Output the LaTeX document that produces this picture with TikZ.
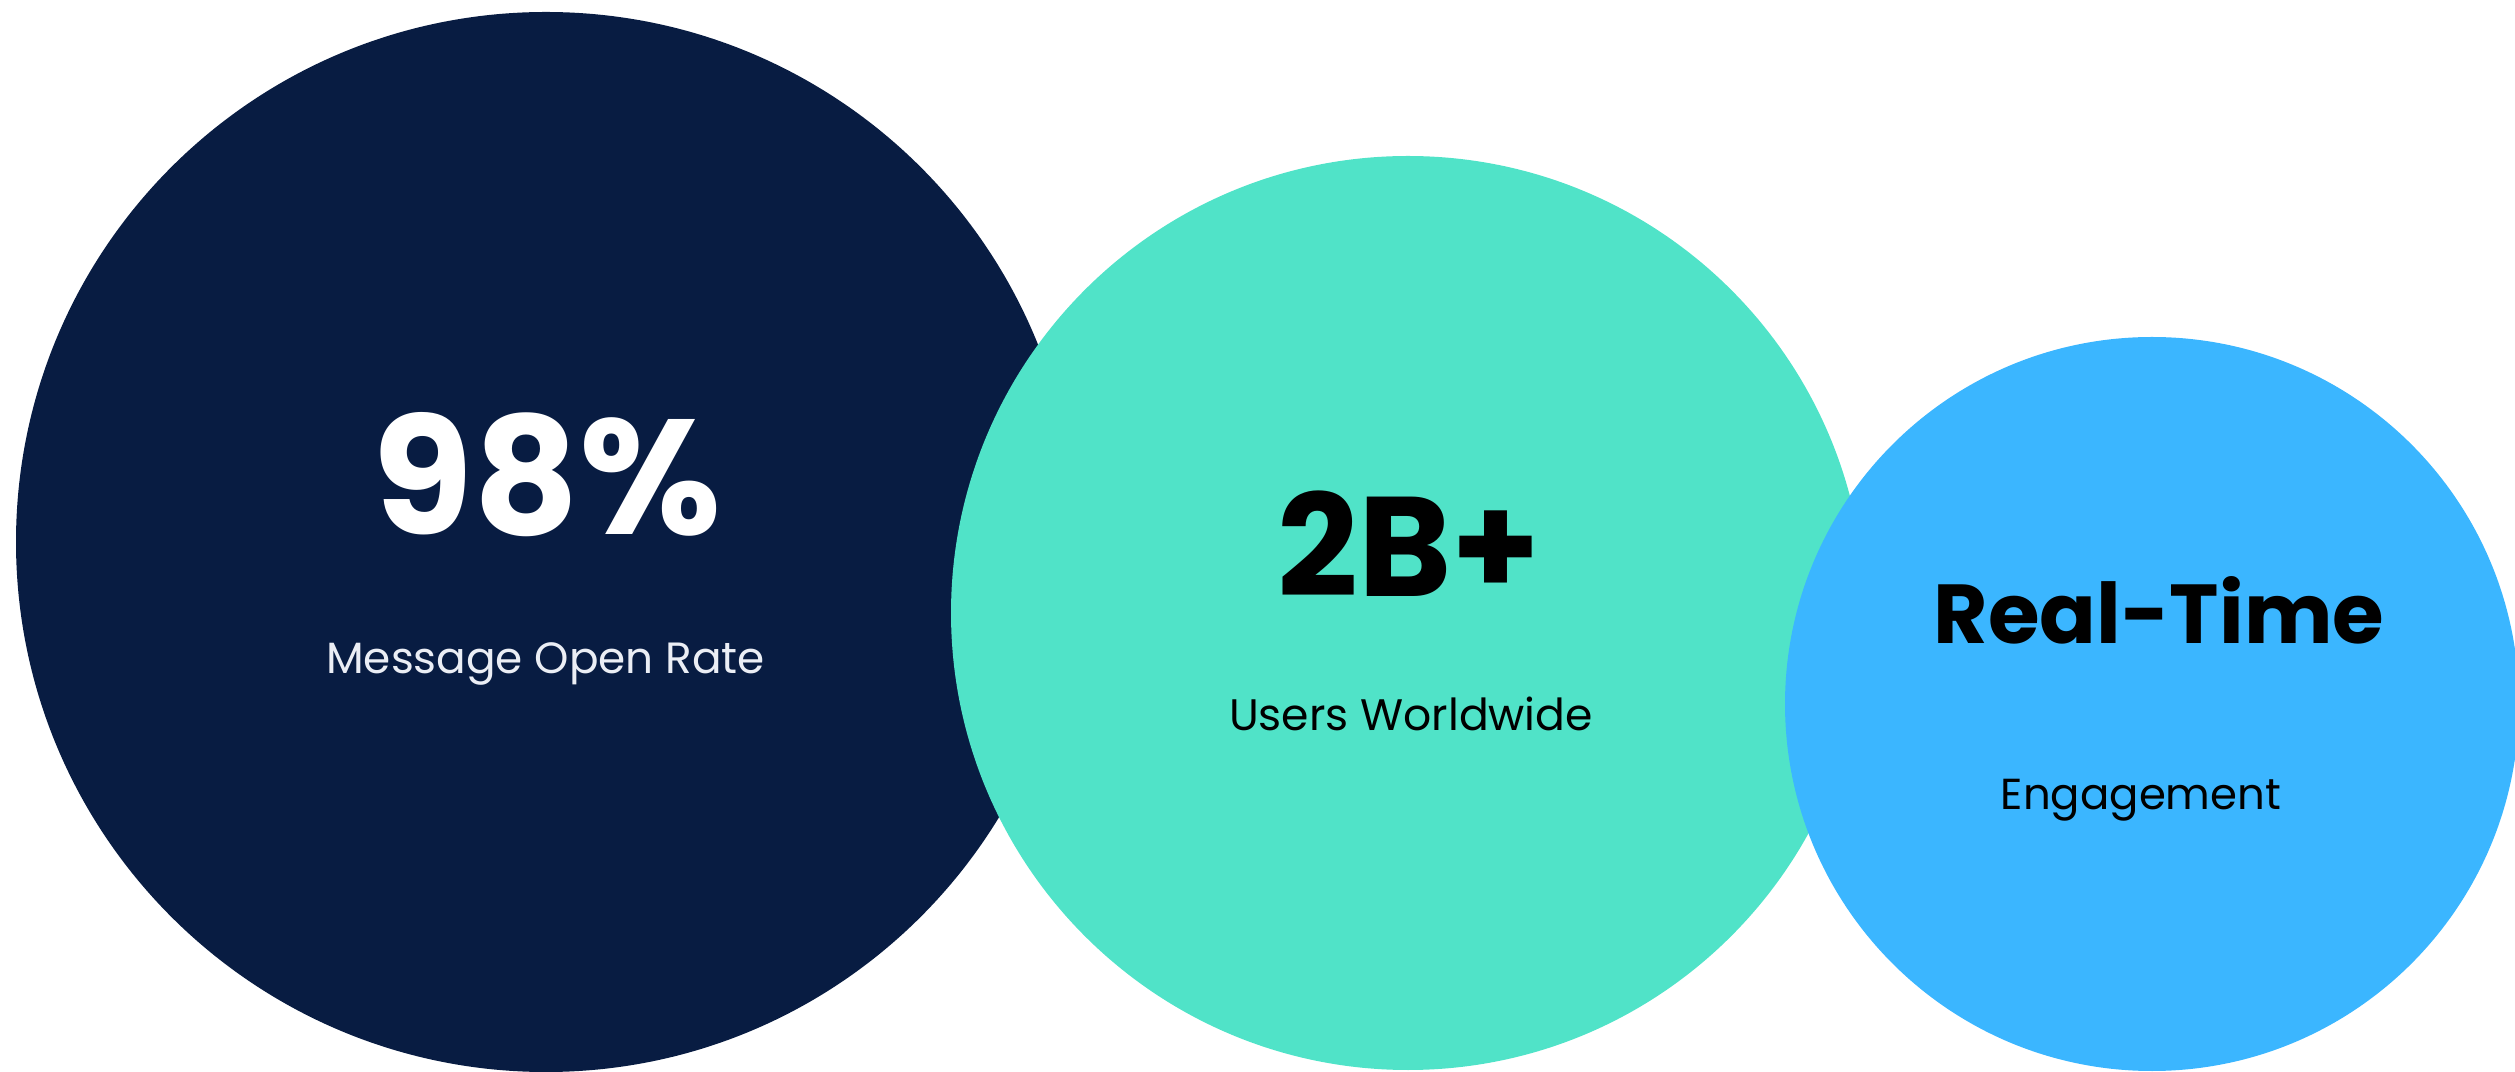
\documentclass[tikz,border=0pt]{standalone}
\usepackage{fontspec}
\setmainfont{Poppins}
\usetikzlibrary{positioning}

\definecolor{navy}{HTML}{081C42}
\definecolor{aqua}{HTML}{50E3C8}
\definecolor{sky}{HTML}{3BB6FF}
\definecolor{paleblue}{HTML}{EBEEF5}

\begin{document}
\begin{tikzpicture}
		\tikzstyle{bubble}=[circle,inner sep=0pt,draw=none]
		\tikzstyle{figure}=[anchor=base,inner sep=0pt,font=\bfseries]
		\tikzstyle{caption}=[anchor=base,inner sep=0pt]
		
		\useasboundingbox (0,0) rectangle (25.15,10.71);
		
		% First bubble (open rate)
		\node[bubble, fill=navy, minimum size=10.6cm] (rate) at (5.46,5.29) {};
		\node[figure, text=white, font=\bfseries\fontsize{46.5}{56}\selectfont] (ratefig) at (5.47,5.36) {98\%};
		\node[caption, text=paleblue, font=\fontsize{12.45}{15}\selectfont] (ratecap) at (5.455,3.97) {Message Open Rate};
		
		% Second bubble (users)
		\node[bubble, fill=aqua, minimum size=9.14cm] (users) at (14.08,4.58) {};
		\node[figure, text=black, font=\bfseries\fontsize{40.3}{48}\selectfont] (usersfig) at (14.09,4.74) {2B+};
		\node[caption, text=black, font=\fontsize{12.55}{15}\selectfont] (userscap) at (14.11,3.40) {Users Worldwide};
		
		% Third bubble (engagement)
		\node[bubble, fill=sky, minimum size=7.34cm] (engage) at (21.52,3.67) {};
		\node[figure, text=black, font=\bfseries\fontsize{23.8}{29}\selectfont] (engagefig) at (21.59,4.27) {Real-Time};
		\node[caption, text=black, font=\fontsize{12.35}{15}\selectfont] (engagecap) at (21.41,2.62) {Engagement};
\end{tikzpicture}
\end{document}
